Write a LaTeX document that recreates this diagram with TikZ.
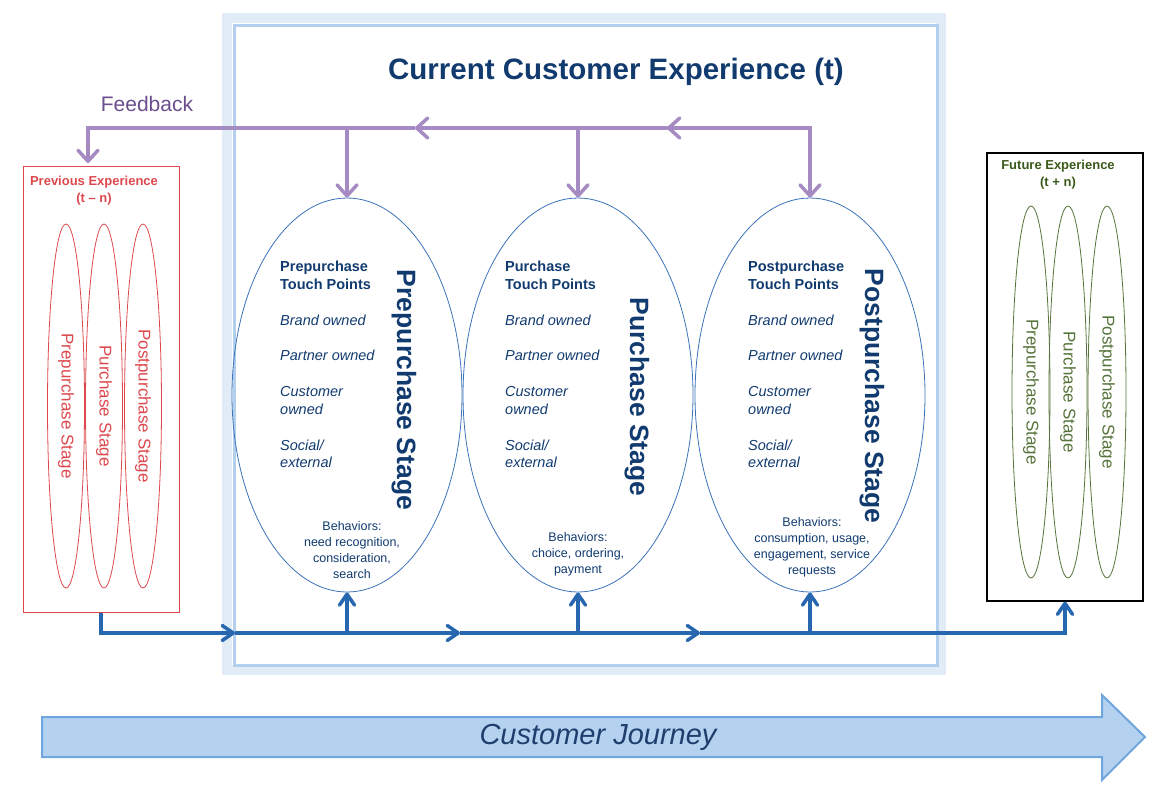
\documentclass[tikz,border=0pt]{standalone}
\usepackage{fontspec}
\setmainfont{Liberation Sans}
\usepackage{tikz}
\usetikzlibrary{shapes.geometric,arrows.meta,positioning}

\definecolor{navy}{HTML}{113B6F}
\definecolor{ellblue}{HTML}{3A72B8}
\definecolor{flowblue}{HTML}{2767B0}
\definecolor{fbpurple}{HTML}{A68BC3}
\definecolor{fbtextcol}{HTML}{6A4E8E}
\definecolor{prevred}{HTML}{DC484D}
\definecolor{futgreen}{HTML}{56733A}
\definecolor{futtitle}{HTML}{3B5A1A}
\definecolor{glow}{HTML}{E2ECF7}
\definecolor{frameline}{HTML}{B2CFEE}
\definecolor{jfill}{HTML}{B4D2EF}
\definecolor{jdraw}{HTML}{6FA6DE}
\definecolor{jtextcol}{HTML}{1E3F6E}

\begin{document}
\begin{tikzpicture}[x=1pt,y=-1pt,
		stage/.style={
			draw=ellblue,
			ellipse,
			line width=0.8pt,
			minimum width=230pt,
			minimum height=394pt,
			inner sep=0pt
		},
		stagename/.style={
			rotate=-90,
			text=navy,
			inner sep=0pt,
			font={\fontsize{26.5}{30}\selectfont\bfseries}
		},
		touch/.style={
			anchor=north west,
			align=left,
			inner sep=0pt,
			text=navy,
			font={\fontsize{14.5}{17.5}\selectfont}
		},
		behave/.style={
			anchor=north,
			align=center,
			inner sep=0pt,
			text=navy,
			font={\fontsize{12.5}{16}\selectfont}
		},
		prevstage/.style={
			draw=prevred,
			text=prevred,
			ellipse,
			rotate=-90,
			line width=0.8pt,
			minimum width=364pt,
			minimum height=37pt,
			inner sep=0pt,
			font={\fontsize{17}{20}\selectfont}
		},
		futstage/.style={
			prevstage,
			draw=futgreen,
			text=futgreen,
			minimum width=372pt,
			minimum height=38pt
		},
		sidetitle/.style={
			align=center,
			inner sep=0pt,
			font={\fontsize{13}{17}\selectfont\bfseries}
		},
		flow/.style={
			draw=flowblue,
			line width=3.5pt,
			-{Straight Barb[length=11pt,width=15pt,round]}
		},
		fback/.style={
			draw=fbpurple,
			line width=3.5pt,
			-{Straight Barb[length=11pt,width=20pt,round]}
		}
		]
		
		\useasboundingbox (0,0) rectangle (1158,790);
		
		% current experience frame
		\draw[glow,line width=10pt] (227,18) rectangle (941,670);
		\draw[frameline,line width=3pt] (234,25) rectangle (937,665);
		
		\node[text=navy,font={\fontsize{29.5}{34}\selectfont\bfseries}] 
		(title) at (616,72) {Current Customer Experience (t)};
		\node[text=fbtextcol,font={\fontsize{21}{24}\selectfont}] 
		(fbtext) at (147,104) {Feedback};
		
		% previous experience
		\node[draw=prevred,line width=1pt,minimum width=156pt,minimum height=446pt] 
		(prev) at (101,389) {};
		\node[sidetitle,text=prevred] (prevtitle) at (94,191) {Previous Experience\\(t – n)};
		\node[prevstage] (prevpre) at (66,406) {Prepurchase Stage};
		\node[prevstage] (prevpur) at (104,406) {Purchase Stage};
		\node[prevstage] (prevpost) at (143,406) {Postpurchase Stage};
		
		% future experience
		\node[draw=black,line width=1.2pt,minimum width=156pt,minimum height=448pt] 
		(fut) at (1065,377) {};
		\node[sidetitle,text=futtitle] (futtitle) at (1058,175) {Future Experience\\(t + n)};
		\node[futstage] (futpre) at (1031,392) {Prepurchase Stage};
		\node[futstage] (futpur) at (1068,392) {Purchase Stage};
		\node[futstage] (futpost) at (1107,392) {Postpurchase Stage};
		
		% current stages
		\node[stage] (pre) at (347,395) {};
		\node[stage] (pur) at (578,395) {};
		\node[stage] (post) at (810,395) {};
		
		\node[stagename] (prename) at (404,390) {Prepurchase Stage};
		\node[stagename] (purname) at (637,397) {Purchase Stage};
		\node[stagename] (postname) at (872,396) {Postpurchase Stage};
		
		\node[touch] (pretouch) at (280,261) {\textbf{Prepurchase}\\\textbf{Touch Points}\\[19pt]
			\textit{Brand owned}\\[17.5pt]\textit{Partner owned}\\[18.5pt]
			\textit{Customer}\\\textit{owned}\\[18.5pt]\textit{Social/}\\\textit{external}};
		\node[touch] (purtouch) at (505,261) {\textbf{Purchase}\\\textbf{Touch Points}\\[19pt]
			\textit{Brand owned}\\[17.5pt]\textit{Partner owned}\\[18.5pt]
			\textit{Customer}\\\textit{owned}\\[18.5pt]\textit{Social/}\\\textit{external}};
		\node[touch] (posttouch) at (748,261) {\textbf{Postpurchase}\\\textbf{Touch Points}\\[19pt]
			\textit{Brand owned}\\[17.5pt]\textit{Partner owned}\\[18.5pt]
			\textit{Customer}\\\textit{owned}\\[18.5pt]\textit{Social/}\\\textit{external}};
		
		\node[behave] (prebeh) at (352,521) {Behaviors:\\need recognition,\\consideration,\\search};
		\node[behave] (purbeh) at (578,532) {Behaviors:\\choice, ordering,\\payment};
		\node[behave] (postbeh) at (812,517) {Behaviors:\\consumption, usage,\\engagement, service\\requests};
		
		% journey flow
		\coordinate (lane) at (0,633);
		\coordinate (a1) at (235,633);
		\coordinate (a2) at (460,633);
		\coordinate (a3) at (700,633);
		\draw[flow] (prev.south) |- (a1);
		\draw[flow] (a1) -- (a2);
		\draw[flow] (a2) -- (a3);
		\draw[flow] (a3) -| (fut.south);
		\draw[flow] (pre.south |- lane) -- (pre.south);
		\draw[flow] (pur.south |- lane) -- (pur.south);
		\draw[flow] (post.south |- lane) -- (post.south);
		
		% feedback
		\coordinate (fbl) at (0,128);
		\coordinate (f1) at (667,128);
		\coordinate (f2) at (415,128);
		\coordinate (previn) at (88,163);
		\draw[fback] (post.north |- fbl) -- (f1);
		\draw[fback] (f1) -- (f2);
		\draw[fback] (f2) -| (previn);
		\draw[fback] (f1) -| (post.north);
		\draw[fback] (pre.north |- fbl) -- (pre.north);
		\draw[fback] (pur.north |- fbl) -- (pur.north);
		
		% customer journey
		\draw[fill=jfill,draw=jdraw,line width=2pt] (42,717) -- (1102,717) -- (1102,695) 
		-- (1145,737) -- (1102,780) -- (1102,757) -- (42,757) -- cycle;
		\node[text=jtextcol,font={\fontsize{29}{33}\selectfont\itshape}] 
		(journey) at (598,737) {Customer Journey};
		
\end{tikzpicture}
\end{document}
